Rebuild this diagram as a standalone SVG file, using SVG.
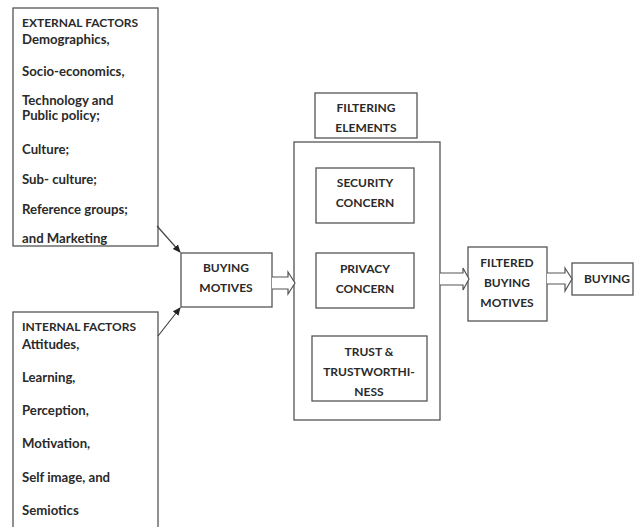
<svg xmlns="http://www.w3.org/2000/svg" width="634" height="527" viewBox="0 0 634 527">
<defs>
<style>
.box{fill:#fff;stroke:#555;stroke-width:1.3}
.t{font-family:Lato,"Open Sans","Liberation Sans",sans-serif;font-weight:bold;font-size:12px;fill:#2a2a2a}
.m{font-size:13.2px}
.c{text-anchor:middle}
.ln{fill:none;stroke:#444;stroke-width:1.2}
.blk{fill:#fff;stroke:#555;stroke-width:1.2;stroke-linejoin:miter}
</style>
<marker id="ah" markerWidth="8" markerHeight="8" refX="7" refY="4" orient="auto" markerUnits="userSpaceOnUse">
<path d="M0,0.5 L8,4 L0,7.5 Z" fill="#222"/>
</marker>
</defs>
<rect width="634" height="527" fill="#fff"/>
<g id="external">
<rect class="box" x="13" y="8" width="145" height="238"/>
<text class="t" x="22" y="27">EXTERNAL FACTORS</text>
<text class="t m" x="22" y="44">Demographics,</text>
<text class="t m" x="22" y="76">Socio-economics,</text>
<text class="t m" x="22" y="105">Technology and</text>
<text class="t m" x="22" y="120">Public policy;</text>
<text class="t m" x="22" y="154">Culture;</text>
<text class="t m" x="22" y="184">Sub- culture;</text>
<text class="t m" x="22" y="214">Reference  groups;</text>
<text class="t m" x="22" y="243">and  Marketing</text>
</g>
<g id="internal">
<rect class="box" x="13" y="312" width="145" height="230"/>
<text class="t" x="22" y="331">INTERNAL FACTORS</text>
<text class="t m" x="22" y="349">Attitudes,</text>
<text class="t m" x="22" y="382">Learning,</text>
<text class="t m" x="22" y="415">Perception,</text>
<text class="t m" x="22" y="448">Motivation,</text>
<text class="t m" x="22" y="482">Self image, and</text>
<text class="t m" x="22" y="515">Semiotics</text>
</g>
<g id="buying-motives">
<rect class="box" x="181" y="253" width="91" height="54"/>
<text class="t c" x="226" y="272">BUYING</text>
<text class="t c" x="226" y="292">MOTIVES</text>
</g>
<g id="filtering-label">
<rect class="box" x="315" y="93" width="102" height="45"/>
<text class="t c" x="366" y="112">FILTERING</text>
<text class="t c" x="366" y="132">ELEMENTS</text>
</g>
<g id="filtering-box">
<rect class="box" x="294" y="142" width="146" height="278"/>
</g>
<g id="security">
<rect class="box" x="316" y="168" width="98" height="55"/>
<text class="t c" x="365" y="187">SECURITY</text>
<text class="t c" x="365" y="207">CONCERN</text>
</g>
<g id="privacy">
<rect class="box" x="316" y="253" width="98" height="55"/>
<text class="t c" x="365" y="273">PRIVACY</text>
<text class="t c" x="365" y="293">CONCERN</text>
</g>
<g id="trust">
<rect class="box" x="312" y="336" width="115" height="65"/>
<text class="t c" x="369" y="356">TRUST &amp;</text>
<text class="t c" x="369" y="376">TRUSTWORTHI-</text>
<text class="t c" x="369" y="396">NESS</text>
</g>
<g id="filtered">
<rect class="box" x="468" y="247" width="79" height="74"/>
<text class="t c" x="507" y="267">FILTERED</text>
<text class="t c" x="507" y="287">BUYING</text>
<text class="t c" x="507" y="307">MOTIVES</text>
</g>
<g id="buying">
<rect class="box" x="572" y="263" width="61" height="32"/>
<text class="t c" x="607" y="283">BUYING</text>
</g>
<g id="connectors">
<line class="ln" x1="157" y1="226" x2="180" y2="252" marker-end="url(#ah)"/>
<line class="ln" x1="158" y1="336" x2="180" y2="308" marker-end="url(#ah)"/>
<path class="blk" d="M272,277 H288 V272 L295,283 L288,294 V289 H272"/>
<path class="blk" d="M440,273 H463 V268 L469,279 L463,290 V285 H440"/>
<path class="blk" d="M547,273 H565 V268 L572,279 L565,291 V284 H547"/>
</g>
</svg>
